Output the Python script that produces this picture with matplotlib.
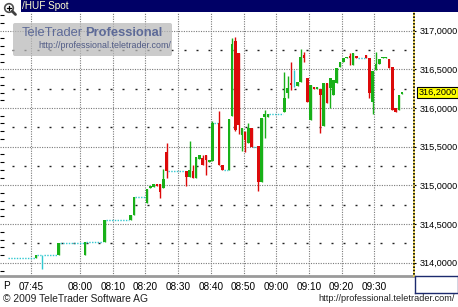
import matplotlib
matplotlib.use("Agg")
import matplotlib.pyplot as plt
import matplotlib.patches as mpatches
import matplotlib.transforms as mtrans
import numpy as np

plt.rcParams['font.family'] = ['Liberation Sans', 'DejaVu Sans']

# ---------------- data ----------------
times = ["07:37", "07:46", "07:48", "07:53", "08:01", "08:07", "08:15", "08:16",
         "08:20", "08:21", "08:22", "08:23", "08:24", "08:25", "08:26", "08:32",
         "08:33", "08:34", "08:35", "08:36", "08:37", "08:38", "08:39", "08:40",
         "08:42", "08:43", "08:45", "08:46", "08:47", "08:48", "08:49", "08:50",
         "08:51", "08:52", "08:54", "08:55", "08:56", "08:57", "09:02", "09:03",
         "09:04", "09:05", "09:06", "09:07", "09:08", "09:09", "09:10", "09:11",
         "09:12", "09:13", "09:14", "09:15", "09:16", "09:17", "09:18", "09:19",
         "09:20", "09:21", "09:22", "09:23", "09:24", "09:27", "09:28", "09:29",
         "09:30", "09:31", "09:32", "09:33", "09:34", "09:35", "09:36", "09:37",
         "09:38"]
opens = [314.06, 314.06, 314.10, 314.10, 314.10, 314.27, 314.55, 314.62,
         314.77, 314.97, 314.98, 315.02, 315.02, 314.97, 315.43, 315.19,
         315.11, 315.19, 315.10, 315.34, 315.35, 315.39, 315.30, 315.32,
         315.81, 315.26, 315.20, 315.90, 316.87, 316.71, 315.65, 315.69,
         315.55, 315.74, 315.51, 315.04, 315.88, 315.88, 315.95, 316.19,
         316.32, 316.29, 316.28, 316.34, 316.68, 316.39, 315.85, 316.27,
         316.25, 316.25, 315.77, 316.32, 316.26, 316.17, 316.32, 316.53,
         316.59, 316.64, 316.66, 316.56, 316.67, 316.68, 316.65, 316.08,
         316.49, 316.57, 316.64, 316.64, 316.63, 316.53, 316.00, 315.97,
         316.18]
highs = [314.06, 314.10, 314.10, 314.26, 314.27, 314.55, 314.62, 314.85,
         314.95, 314.99, 315.02, 315.02, 315.02, 315.21, 315.55, 315.19,
         315.57, 315.26, 315.37, 315.39, 315.39, 315.39, 315.33, 315.83,
         315.96, 315.26, 315.86, 316.90, 316.92, 316.71, 315.74, 315.70,
         315.81, 315.74, 315.51, 315.87, 315.97, 315.92, 316.47, 316.41,
         316.59, 316.49, 316.34, 316.76, 316.72, 316.39, 316.30, 316.27,
         316.27, 316.25, 316.32, 316.32, 316.39, 316.36, 316.52, 316.59,
         316.65, 316.66, 316.71, 316.71, 316.67, 316.68, 316.65, 316.48,
         316.72, 316.63, 316.66, 316.66, 316.63, 316.53, 316.00, 316.17,
         316.20]
lows = [314.06, 314.06, 313.92, 314.10, 314.10, 314.27, 314.55, 314.62,
        314.77, 314.97, 314.98, 314.99, 314.84, 314.97, 315.10, 314.99,
        315.11, 315.10, 315.10, 315.34, 315.26, 315.13, 315.30, 315.32,
        315.26, 315.20, 315.20, 315.90, 315.70, 315.66, 315.44, 315.43,
        315.55, 315.50, 314.93, 315.04, 315.61, 315.88, 315.95, 316.13,
        316.23, 316.27, 316.28, 316.34, 316.59, 316.08, 315.85, 316.25,
        316.25, 315.68, 315.77, 316.06, 316.00, 316.17, 316.32, 316.53,
        316.59, 316.64, 316.56, 316.56, 316.65, 316.65, 316.13, 315.92,
        316.49, 316.57, 316.64, 316.64, 316.52, 315.97, 315.95, 315.97,
        316.18]
closes = [314.06, 314.10, 314.10, 314.26, 314.27, 314.55, 314.62, 314.85,
          314.95, 314.99, 315.02, 314.99, 314.91, 315.08, 315.19, 315.11,
          315.20, 315.10, 315.37, 315.39, 315.26, 315.33, 315.33, 315.81,
          315.26, 315.20, 315.86, 316.83, 315.72, 315.78, 315.74, 315.59,
          315.74, 315.50, 315.04, 315.87, 315.92, 315.92, 316.13, 316.26,
          316.30, 316.29, 316.34, 316.66, 316.65, 316.08, 316.30, 316.25,
          316.27, 316.17, 316.32, 316.06, 316.39, 316.36, 316.52, 316.59,
          316.65, 316.66, 316.65, 316.71, 316.65, 316.65, 316.19, 316.48,
          316.57, 316.63, 316.66, 316.66, 316.52, 315.97, 315.95, 316.17,
          316.20]

x_tick_labels = ["07:45", "08:00", "08:10", "08:20", "08:30", "08:40",
                 "08:50", "09:00", "09:10", "09:20", "09:30"]
y_ticks = [314.0, 314.5, 315.0, 315.5, 316.0, 316.5, 317.0]
last_price = 316.20
title = "/HUF Spot"

# ---------------- helpers ----------------
def tmin(s):
    hh, mm = s.split(":")
    return int(hh) * 60 + int(mm)

W, H = 458, 307
fig = plt.figure(figsize=(W / 100, H / 100), dpi=100)
fig.patch.set_facecolor("white")

PL, PR, PT, PB = 0, 413, 13, 276
ax = fig.add_axes([PL / W, 1 - PB / H, (PR - PL) / W, (PB - PT) / H])
ax.set_facecolor("white")

GREEN = "#18b018"
RED = "#dc0a0a"
CYAN = "#30c8d0"

xs = np.array([tmin(t) + 0.5 for t in times])
o = np.array(opens); h = np.array(highs); l = np.array(lows); c = np.array(closes)

# connectors for gaps (cyan dotted at previous close)
for i in range(1, len(xs)):
    if xs[i] - xs[i - 1] > 1.01:
        ax.hlines(c[i - 1], xs[i - 1] + 0.4, xs[i] - 0.4, colors=CYAN,
                  linestyles=(0, (1, 1)), linewidth=1.0, zorder=3)

cols = [GREEN if cc > oo else (RED if cc < oo else CYAN) for oo, cc in zip(o, c)]
ax.vlines(xs, l, h, colors=cols, linewidth=1.0, zorder=4)
bottoms = np.minimum(o, c)
heights = np.maximum(np.abs(c - o), 0.022)
mask = np.array([col != CYAN for col in cols])
ax.bar(xs[mask], heights[mask], bottom=bottoms[mask], width=0.8,
       color=np.array(cols)[mask], edgecolor='none', zorder=5)

# limits
x0 = tmin("07:45")
ax.set_xlim(x0 - 31 / 3.27, x0 + (413 - 31) / 3.27)
ppu = 77.4
ax.set_ylim(316 - (PB - 108) / ppu, 316 + (108 - PT) / ppu)

xt = [tmin(t) for t in x_tick_labels]
ax.set_xticks(xt)
ax.set_xticklabels(x_tick_labels, fontsize=7.2)
ax.tick_params(axis='x', length=0, pad=4.5, colors='black')

ax.set_yticks(y_ticks)
ax.set_yticklabels([f"{v:.4f}".replace(".", ",") for v in y_ticks], fontsize=6.6)
ax.tick_params(axis='y', which='major', left=False, right=True, labelleft=False,
               labelright=True, length=2.5, width=0.8, direction='out', pad=2.5)
ax.set_yticks(np.arange(313.9, 317.25, 0.1), minor=True)
ax.tick_params(axis='y', which='minor', left=True, right=False, length=3,
               width=0.8, direction='in', color='black')

ax.grid(which='major', color='#7a7a7a', linestyle=(0, (1, 1.2)), linewidth=0.8, zorder=1)
ax.set_axisbelow(True)

# intermediate dashed levels
lo, hi = ax.get_ylim()
levels = [v for v in np.arange(313.75, 317.3, 0.5) if lo < v < hi]
dash_x = np.arange(x0 - 5.5, x0 + 118, 3.75)
for lv in levels:
    ax.plot(dash_x, np.full_like(dash_x, lv), linestyle='none', marker='_',
            markersize=1.6, markeredgewidth=1.0, color='#202020', zorder=1)

for s in ['top', 'left', 'right']:
    ax.spines[s].set_visible(False)
ax.spines['bottom'].set_color('#9a9a9a')
ax.spines['bottom'].set_linewidth(2.0)

# last price label
trans = mtrans.blended_transform_factory(ax.transAxes, ax.transData)
ax.text(1.0 + 5.5 / (PR - PL), last_price, f"{last_price:.4f}".replace(".", ","),
        transform=trans, fontsize=6.6, va='center', ha='left', zorder=20,
        bbox=dict(boxstyle='square,pad=0.12', facecolor='#ffff00',
                  edgecolor='black', linewidth=0.8), clip_on=False)

# ---------------- overlay in pixel coords ----------------
ov = fig.add_axes([0, 0, 1, 1])
ov.set_xlim(0, W); ov.set_ylim(H, 0)
ov.axis('off')
ov.patch.set_visible(False)

# title bar
ov.add_patch(mpatches.Rectangle((21, 0), W - 21, 12, facecolor='#000066', edgecolor='none'))
ov.text(22, 6.3, title, color='#ffffd0', fontsize=7.2, va='center', ha='left')
# magnifier icon
ov.add_patch(mpatches.Circle((9, 8), 4.3, facecolor='white', edgecolor='#505050', linewidth=1.2))
ov.plot([7, 11], [8, 8], color='black', lw=0.9)
ov.plot([9, 9], [6, 10], color='black', lw=0.9)
ov.plot([12.2, 15.5], [11.2, 14.5], color='#404040', lw=2.0, solid_capstyle='round')

# right axis dotted line (yellow/black)
ov.plot([413.5, 413.5], [PT, PB], color='#ffe040', lw=1.2)
ov.plot([413.5, 413.5], [PT, PB], color='black', lw=1.2, linestyle=(0, (1, 1)))
# right panel borders
navy = '#1c2a6e'
ov.plot([414.5, 414.5], [PB, 293], color=navy, lw=1.0)
ov.plot([414.5, 457.5], [PB - 0.5, PB - 0.5], color=navy, lw=1.0)
ov.plot([414.5, 457.5], [293, 293], color=navy, lw=1.0)
ov.plot([457.5, 457.5], [PB, 293], color=navy, lw=1.0)

# axis strip "P"
ov.text(3, 286, "P", fontsize=7.2, va='center', ha='left')

# watermark
ov.add_patch(mpatches.FancyBboxPatch((13, 23), 159, 33,
             boxstyle='round,pad=0,rounding_size=2', facecolor='#b8b8b8',
             edgecolor='none', alpha=0.72, zorder=2))
ov.text(22, 33.5, "TeleTrader", color='#5d6a98', fontsize=9.3, va='center',
        ha='left', zorder=3)
ov.text(85, 33.5, "Professional", color='#5d6a98', fontsize=9.3, va='center',
        ha='left', fontweight='bold', zorder=3)
ov.text(38, 46, "http://professional.teletrader.com/", color='#4f5a85',
        fontsize=6.4, va='center', ha='left', zorder=3)

# footer
ov.text(3, 298.5, "\u00a9 2009 TeleTrader Software AG", fontsize=7.4,
        va='center', ha='left', color='#202020')
ov.text(455, 298.5, "http://professional.teletrader.com/", fontsize=6.6,
        va='center', ha='right', color='#202020')

fig.savefig("out.png", dpi=100, facecolor='white')
